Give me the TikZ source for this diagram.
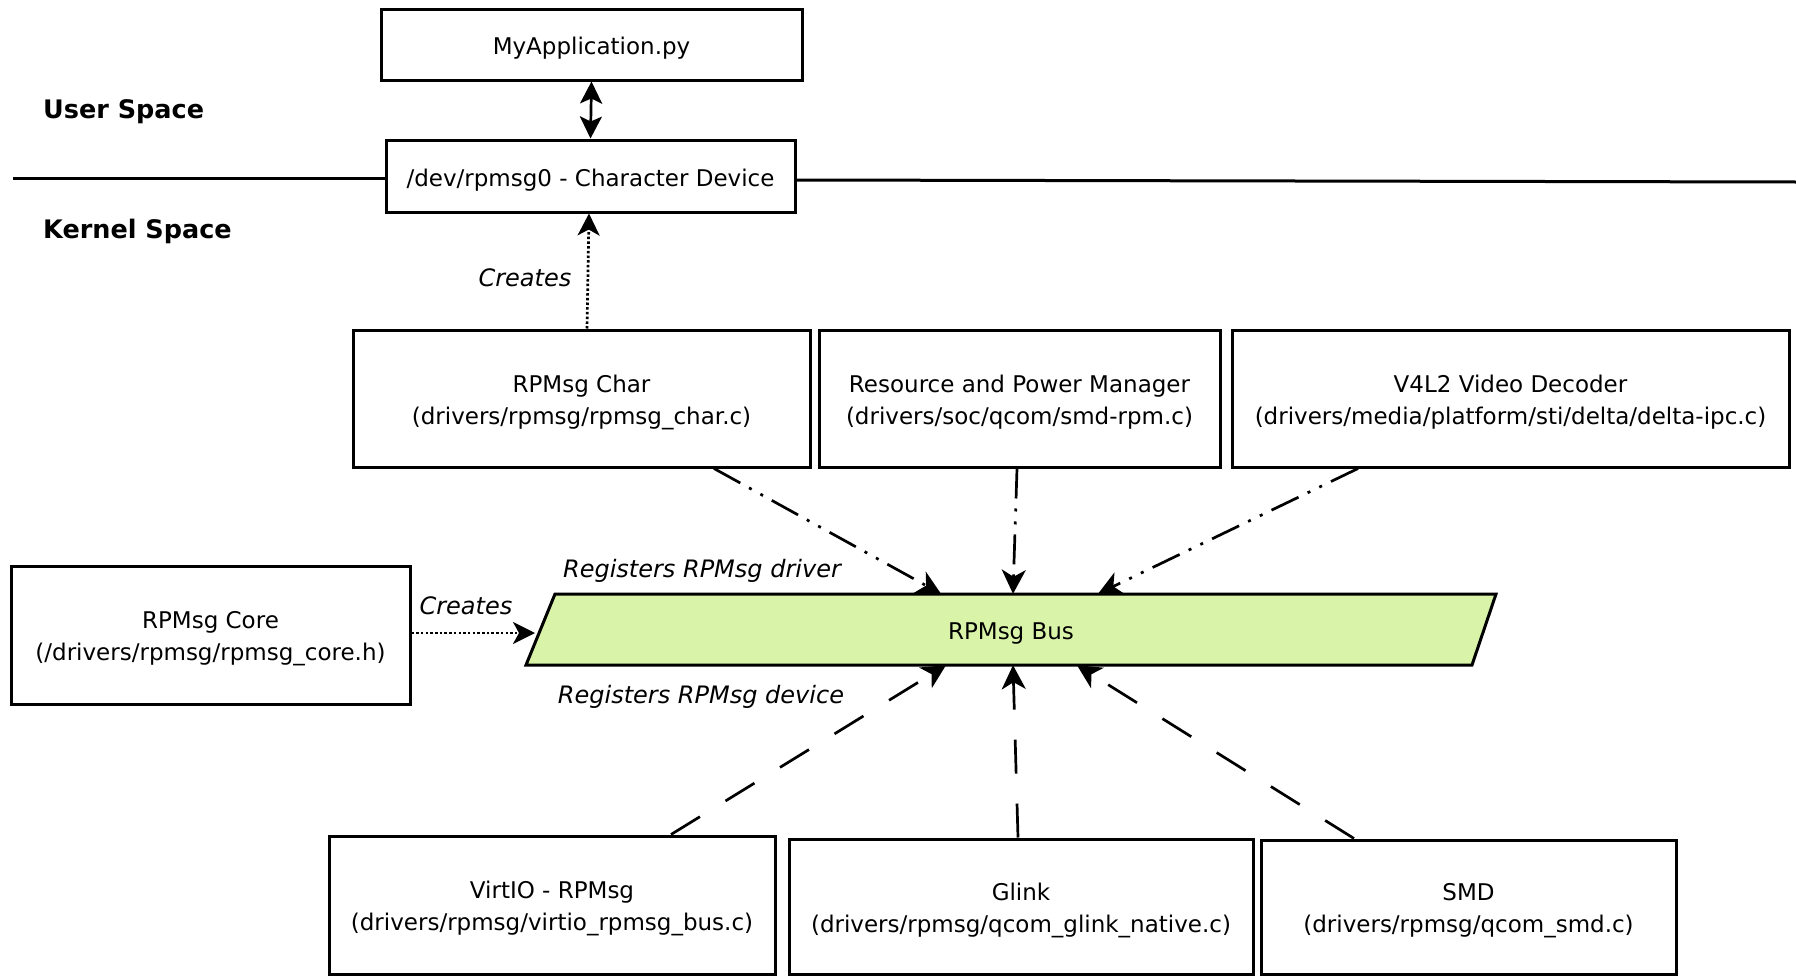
\documentclass[tikz,border=0pt]{standalone}
\usepackage{fontspec}
\setmainfont{DejaVu Sans}
\usetikzlibrary{arrows.meta}
\definecolor{busgreen}{RGB}{217,244,168}
\begin{document}
\begin{tikzpicture}[x=1pt,y=-1pt,
  box/.style={draw, line width=3pt, rectangle, align=center,
    font=\fontsize{23}{32}\selectfont, inner sep=0pt},
  oneline/.style={box, text height=25pt},
  twoline/.style={box, text height=57pt},
  lbl/.style={font=\fontsize{24}{28}\selectfont\itshape, inner sep=0pt},
  space/.style={font=\fontsize{25.5}{30}\selectfont\bfseries, inner sep=0pt, anchor=west},
  tip/.style={-{Stealth[length=24pt,width=24pt,inset=7pt]}},
  regdrv/.style={tip, line width=2.7pt,
    dash pattern=on 30pt off 10pt on 3pt off 10pt on 3pt off 10pt},
  regdev/.style={tip, line width=2.7pt, dash pattern=on 34pt off 30pt},
  creates/.style={-{Stealth[length=22pt,width=22pt,inset=6pt]}, line width=2.7pt,
    dash pattern=on 2.5pt off 2.2pt},
]
\useasboundingbox (0,0) rectangle (1796,977);

% user space
\node[oneline, minimum width=421pt, minimum height=71pt] (app) at (591.5,44.5) {MyApplication.py};
\node[oneline, minimum width=409pt, minimum height=72pt] (dev) at (590.5,176) {/dev/rpmsg0 - Character Device};
\node[space] (us) at (43,112) {User Space};
\node[space] (ks) at (43,231) {Kernel Space};

% user/kernel boundary
\coordinate (sepL) at (13,178);
\coordinate (sepR) at (1796,182);
\draw[line width=3pt] (sepL) -- (dev.west |- sepL);
\draw[line width=3pt] (dev.east |- 0,180) -- (sepR);

\draw[line width=2.7pt, {Stealth[length=22pt,width=22pt,inset=5pt]}-{Stealth[length=22pt,width=22pt,inset=5pt]}]
  (app.south) -- (dev.north);

% RPMsg drivers
\node[twoline, minimum width=457pt, minimum height=137pt] (char) at (581.5,398.5)
  {RPMsg Char\\(drivers/rpmsg/rpmsg\_char.c)};
\node[twoline, minimum width=401pt, minimum height=137pt] (rpm) at (1019.5,398.5)
  {Resource and Power Manager\\(drivers/soc/qcom/smd-rpm.c)};
\node[twoline, minimum width=557pt, minimum height=137pt] (v4l) at (1510.5,398.5)
  {V4L2 Video Decoder\\(drivers/media/platform/sti/delta/delta-ipc.c)};

% core
\node[twoline, minimum width=399pt, minimum height=138pt] (core) at (210.5,635)
  {RPMsg Core\\(/drivers/rpmsg/rpmsg\_core.h)};

% bus
\draw[line width=3pt, fill=busgreen] (555,594) -- (1496,594) -- (1472,665) -- (526,665) -- cycle;
\node[font=\fontsize{23}{28}\selectfont, minimum width=946pt, minimum height=71pt, inner sep=0pt,
  text height=25pt] (bus) at (1011,629.5) {RPMsg Bus};

% RPMsg devices
\node[twoline, minimum width=446pt, minimum height=138pt] (virt) at (552,905) {VirtIO - RPMsg\\(drivers/rpmsg/virtio\_rpmsg\_bus.c)};
\node[twoline, minimum width=464pt, minimum height=135pt] (glink) at (1021,906.5) {Glink\\(drivers/rpmsg/qcom\_glink\_native.c)};
\node[twoline, minimum width=415pt, minimum height=134pt] (smd) at (1468.5,907) {SMD\\(drivers/rpmsg/qcom\_smd.c)};

% labels
\node[lbl] (cr1) at (525,278) {Creates};
\node[lbl] (cr2) at (466,606) {Creates};
\node[lbl] (rd) at (702,571) {Registers RPMsg driver};
\node[lbl] (rv) at (701,697) {Registers RPMsg device};

% connectors
\draw[creates] (char.north -| 587,0) -- (dev.south -| 589,0);
\draw[creates] (core.east |- 0,633) -- (535,633);

\draw[regdrv] (char.south -| 714,0) -- (bus.north -| 941,0);
\draw[regdrv] (rpm.south -| 1017,0) -- (bus.north -| 1013,0);
\draw[regdrv] (v4l.south -| 1358,0) -- (bus.north -| 1098,0);

\draw[regdev] (virt.north -| 671,0) -- (bus.south -| 946,0);
\draw[regdev] (glink.north -| 1018,0) -- (bus.south -| 1013,0);
\draw[regdev] (smd.north -| 1354,0) -- (bus.south -| 1077,0);
\end{tikzpicture}
\end{document}
